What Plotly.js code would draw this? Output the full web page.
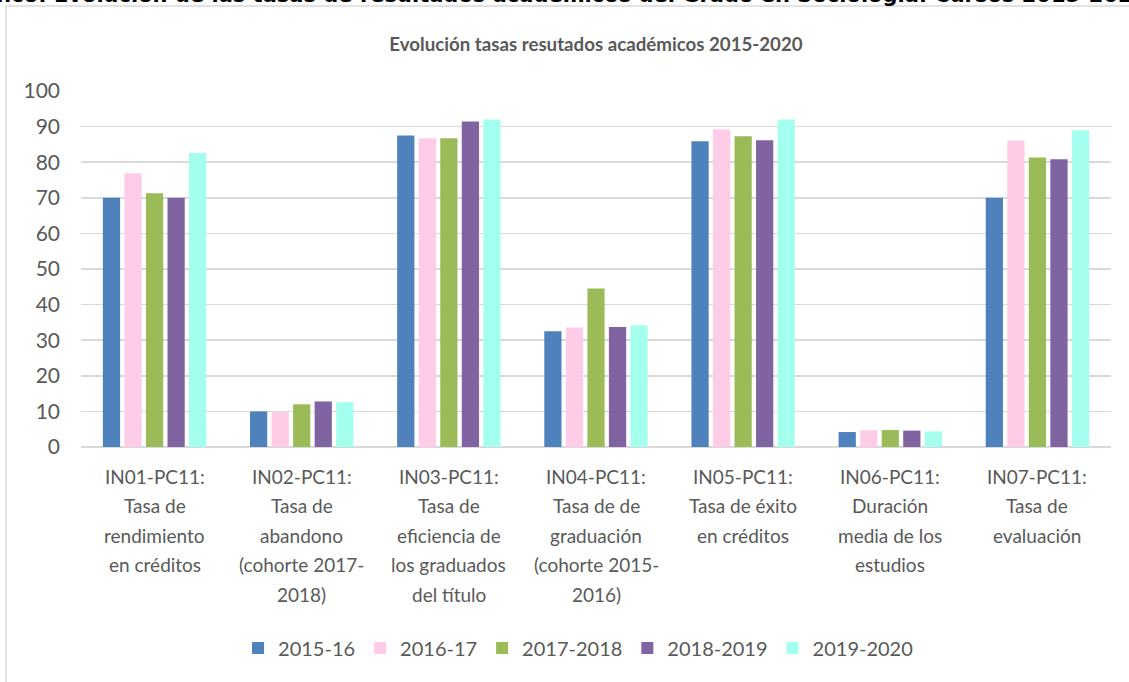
<!DOCTYPE html>
<html>
<head>
<meta charset="utf-8">
<script src="https://cdn.plot.ly/plotly-3.0.1.min.js"></script>
<style>html,body{margin:0;padding:0;background:#fff;}#chart{width:1129px;height:682px;}</style>
</head>
<body>
<div id="chart"></div>
<script>
const categories = [
  'IN01-PC11:<br>Tasa de<br>rendimiento<br>en créditos',
  'IN02-PC11:<br>Tasa de<br>abandono<br>(cohorte 2017-<br>2018)',
  'IN03-PC11:<br>Tasa de<br>eficiencia de<br>los graduados<br>del título',
  'IN04-PC11:<br>Tasa de de<br>graduación<br>(cohorte 2015-<br>2016)',
  'IN05-PC11:<br>Tasa de éxito<br>en créditos',
  'IN06-PC11:<br>Duración<br>media de los<br>estudios',
  'IN07-PC11:<br>Tasa de<br>evaluación'
];
const seriesNames = ['2015-16', '2016-17', '2017-2018', '2018-2019', '2019-2020'];
const v2015_16   = [70.0, 10.0, 87.5, 32.5, 85.9, 4.2, 70.0];
const v2016_17   = [76.9,  9.9, 86.7, 33.6, 89.2, 4.7, 86.1];
const v2017_2018 = [71.3, 12.0, 86.7, 44.5, 87.3, 4.8, 81.3];
const v2018_2019 = [70.0, 12.8, 91.4, 33.7, 86.2, 4.6, 80.8];
const v2019_2020 = [82.6, 12.6, 92.0, 34.2, 92.0, 4.4, 89.0];
const yTicks = [0, 10, 20, 30, 40, 50, 60, 70, 80, 90, 100];
const chartTitle = 'Evolución tasas resutados académicos 2015-2020';
const headerText = 'Gráfico: Evolución de las tasas de resultados académicos del Grado en Sociología. Cursos 2015-2020';

const colors = ['#4F81BD', '#FFCCE8', '#9BBB59', '#8064A2', '#A5FFEE'];
const values = [v2015_16, v2016_17, v2017_2018, v2018_2019, v2019_2020];
const FONT = 'Lato, Carlito, "Open Sans", sans-serif';
const GRAY = '#595959';

const W = 1129, H = 682;
const M = {l: 81, r: 18, t: 91, b: 235};
const pw = W - M.l - M.r, ph = H - M.t - M.b;

const traces = seriesNames.map((n, i) => ({
  type: 'bar', name: n, x: categories, y: values[i],
  marker: {color: colors[i], line: {width: 0}},
  hoverinfo: 'skip'
}));

const annotations = [];
categories.forEach(c => {
  c.split('<br>').forEach((line, i) => {
    annotations.push({
      x: c, y: 0, xref: 'x', yref: 'y', text: line, showarrow: false,
      xanchor: 'center', yanchor: 'middle', yshift: -(29 + i * 29.6),
      font: {family: FONT, size: 19, color: GRAY}
    });
  });
});
annotations.push({
  xref: 'paper', yref: 'paper', x: (-48 - M.l) / pw, y: 1 + (M.t + 5) / ph,
  xanchor: 'left', yanchor: 'middle', showarrow: false, text: headerText,
  font: {family: '"DejaVu Sans", sans-serif', size: 21, color: '#000', weight: 700}
});

const layout = {
  width: W, height: H, margin: M,
  paper_bgcolor: '#fff', plot_bgcolor: '#fff',
  font: {family: FONT, color: GRAY},
  title: {text: chartTitle, x: 0.5, xref: 'paper', y: 1 - 44 / H, yref: 'container',
          xanchor: 'center', yanchor: 'middle',
          font: {family: FONT, size: 18.7, color: GRAY, weight: 700}},
  barmode: 'group', bargap: 0.268, bargroupgap: 0.2,
  xaxis: {type: 'category', showticklabels: false, showgrid: false, showline: false, ticks: '', fixedrange: true},
  yaxis: {range: [0, 100], tickvals: yTicks, showgrid: true, gridcolor: '#D9D9D9', gridwidth: 1.5,
          zeroline: true, zerolinecolor: '#D9D9D9', zerolinewidth: 1.5, showline: false, ticks: '',
          ticklabelstandoff: 20, tickfont: {family: FONT, size: 21, color: GRAY}},
  legend: {orientation: 'h', x: 0.512, xanchor: 'center', xref: 'container', y: 1 - 648 / H, yref: 'container', yanchor: 'middle',
           font: {family: FONT, size: 20, color: GRAY}, itemwidth: 30, traceorder: 'normal'},
  annotations: annotations,
  shapes: [
    {type: 'line', xref: 'paper', yref: 'paper', x0: (6 - M.l) / pw, x1: (1140 - M.l) / pw,
     y0: 1 + (M.t - 6) / ph, y1: 1 + (M.t - 6) / ph, line: {color: '#D9D9D9', width: 1.5}},
    {type: 'line', xref: 'paper', yref: 'paper', x0: (6 - M.l) / pw, x1: (6 - M.l) / pw,
     y0: 1 + (M.t - 6) / ph, y1: -(M.b + 10) / ph, line: {color: '#D9D9D9', width: 1.5}}
  ],
  showlegend: true
};

Plotly.newPlot('chart', traces, layout, {displayModeBar: false, staticPlot: true});
</script>
</body>
</html>
